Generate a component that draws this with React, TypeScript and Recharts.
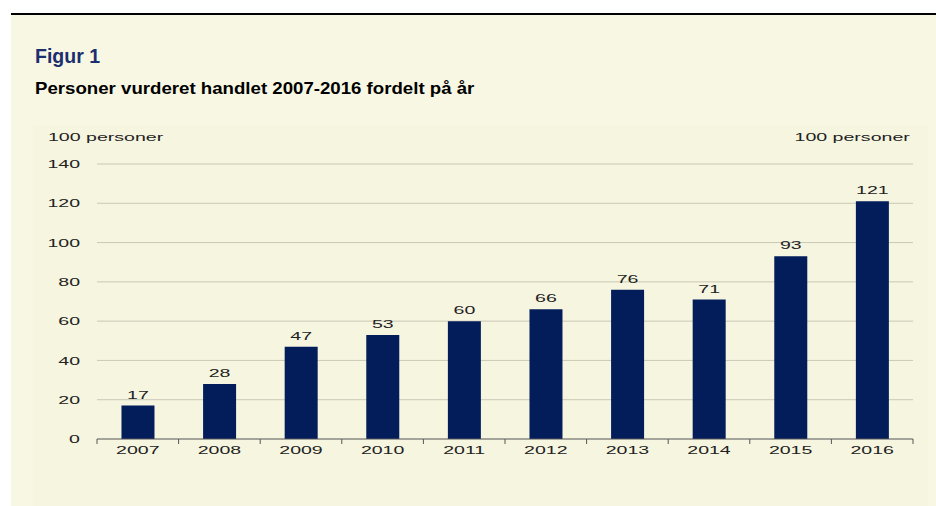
import { BarChart, Bar, XAxis, YAxis, CartesianGrid, LabelList } from "recharts";

const years = ["2007", "2008", "2009", "2010", "2011", "2012", "2013", "2014", "2015", "2016"];
const persons = [17, 28, 47, 53, 60, 66, 76, 71, 93, 121];
const yTicks = [0, 20, 40, 60, 80, 100, 120, 140];

const chartData = years.map((year, i) => ({ year, persons: persons[i] }));

const axisFont = "'Liberation Sans', Arial, sans-serif";
const stretch = 1.7;

function YTick({ x, y, payload }: any) {
  return (
    <g transform={`translate(${x},${y})`}>
      <text transform={`scale(${stretch},1)`} textAnchor="end" dy="0.36em" fontSize={11.5} fontFamily={axisFont} fill="#222">
        {payload.value}
      </text>
    </g>
  );
}

function XTick({ x, y, payload, index }: any) {
  const half = payload.offset || 0;
  const last = index === years.length - 1;
  return (
    <g>
      <line x1={x - half} x2={x - half} y1={y - 7} y2={y - 2} stroke="#555" />
      {last && <line x1={x + half} x2={x + half} y1={y - 7} y2={y - 2} stroke="#555" />}
      <g transform={`translate(${x},${y})`}>
        <text transform={`scale(${stretch},1)`} textAnchor="middle" dy="0.71em" fontSize={11.5} fontFamily={axisFont} fill="#222">
          {payload.value}
        </text>
      </g>
    </g>
  );
}

function ValueLabel({ x, y, width, value }: any) {
  return (
    <g transform={`translate(${x + width / 2},${y - 7})`}>
      <text transform={`scale(${stretch},1)`} textAnchor="middle" fontSize={11.5} fontFamily={axisFont} fill="#222">
        {value}
      </text>
    </g>
  );
}

const unitStyle: React.CSSProperties = {
  position: "absolute",
  top: 130,
  fontFamily: axisFont,
  fontSize: 11.5,
  lineHeight: "14px",
  color: "#222",
  whiteSpace: "nowrap",
};

export default function App() {
  return (
    <div style={{ position: "absolute", left: 0, top: 0, width: 936, height: 506, background: "#fff", overflow: "hidden" }}>
      <div style={{ position: "absolute", left: 11, top: 13, width: 925, height: 2, background: "#000" }} />
      <div style={{ position: "absolute", left: 11, top: 15, width: 925, height: 491, background: "#f8f7e3" }} />
      <div style={{ position: "absolute", left: 33, top: 125, width: 895, height: 381, background: "#f6f5e0" }} />
      <div
        style={{
          position: "absolute",
          left: 35,
          top: 46,
          fontFamily: axisFont,
          fontWeight: "bold",
          fontSize: 19.5,
          lineHeight: "20px",
          color: "#1b2f6e",
        }}
      >
        Figur 1
      </div>
      <div
        style={{
          position: "absolute",
          left: 35,
          top: 80,
          fontFamily: axisFont,
          fontWeight: "bold",
          fontSize: 16.5,
          lineHeight: "16px",
          color: "#000",
          whiteSpace: "nowrap",
          transform: "scaleX(1.13)",
          transformOrigin: "left",
        }}
      >
        Personer vurderet handlet 2007-2016 fordelt på år
      </div>
      <div style={{ ...unitStyle, left: 48, transform: `scaleX(${stretch})`, transformOrigin: "left" }}>100 personer</div>
      <div style={{ ...unitStyle, right: 26, transform: `scaleX(${stretch})`, transformOrigin: "right" }}>100 personer</div>
      <div style={{ position: "absolute", left: 0, top: 0 }}>
        <BarChart
          width={936}
          height={506}
          data={chartData}
          margin={{ top: 164, right: 23, bottom: 37, left: 0 }}
          barCategoryGap="30%"
        >
          <CartesianGrid vertical={false} stroke="#c9c8b6" horizontalValues={yTicks.slice(1)} />
          <XAxis
            dataKey="year"
            height={30}
            tickSize={0}
            tickMargin={7}
            axisLine={{ stroke: "#555" }}
            tick={<XTick />}
            interval={0}
          />
          <YAxis
            width={97}
            domain={[0, 140]}
            ticks={yTicks}
            tickSize={0}
            tickMargin={17}
            axisLine={false}
            tickLine={false}
            tick={<YTick />}
          />
          <Bar dataKey="persons" fill="#031d5b" isAnimationActive={false}>
            <LabelList dataKey="persons" content={<ValueLabel />} />
          </Bar>
        </BarChart>
      </div>
    </div>
  );
}
